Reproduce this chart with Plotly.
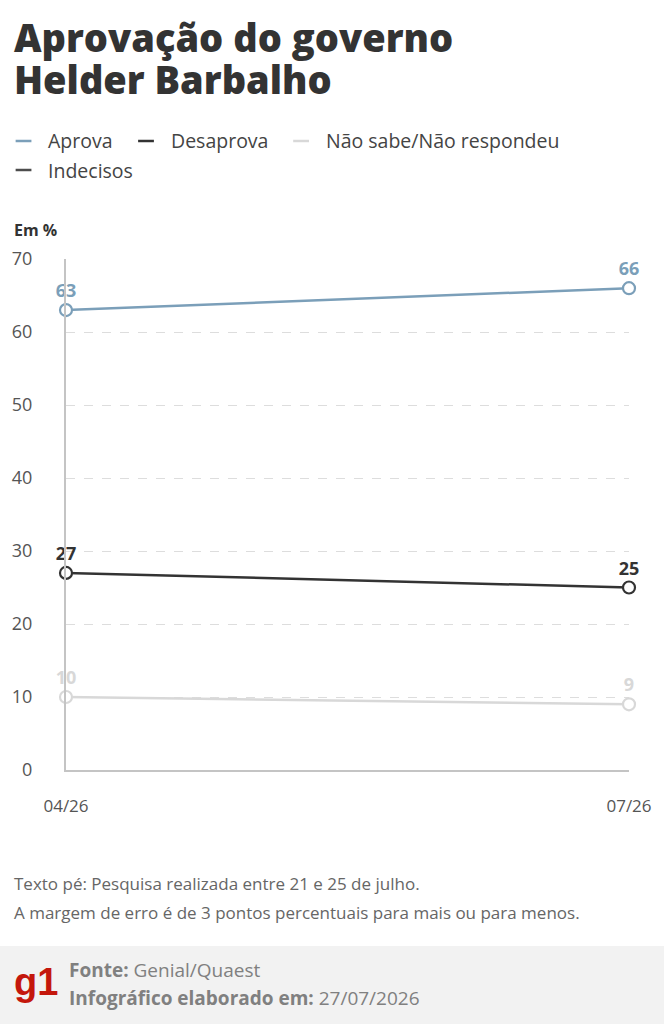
import plotly.graph_objects as go

# dados
periodos = ['04/26', '07/26']
aprova = [63, 66]
desaprova = [27, 25]
nao_sabe = [10, 9]
indecisos = [None, None]

series = [
    ('Aprova', aprova, '#7b9fb9'),
    ('Desaprova', desaprova, '#333333'),
    ('Não sabe/Não respondeu', nao_sabe, '#d8d8d8'),
    ('Indecisos', indecisos, '#4d4d4d'),
]

FONTE = 'Open Sans'
W, H = 664, 1024
L, R, T, B = 61, 33, 259, 254
PW, PH = W - L - R, H - T - B


# pixel (da imagem) -> coordenadas paper
def px(x):
    return (x - L) / PW


def py(y):
    return (H - B - y) / PH


fig = go.Figure()

for nome, valores, cor in series:
    fig.add_trace(go.Scatter(
        x=periodos, y=valores, name=nome,
        mode='lines+markers+text',
        line=dict(color=cor, width=2.5),
        marker=dict(size=12, color='white', line=dict(color=cor, width=2.2)),
        text=[str(v) if v is not None else '' for v in valores],
        textposition='top center',
        textfont=dict(family=FONTE, size=18, color=cor, weight='bold'),
        cliponaxis=False,
        showlegend=False,
    ))

fig.update_layout(
    width=W, height=H,
    margin=dict(l=L, r=R, t=T, b=B),
    paper_bgcolor='white', plot_bgcolor='white',
    font=dict(family=FONTE, color='#555555'),
    xaxis=dict(
        type='category', range=[0, 1],
        showgrid=True, gridcolor='#dddddd', griddash='dash', gridwidth=1,
        showline=True, linecolor='#c4c4c4', linewidth=2,
        ticks='', ticklabelstandoff=20,
        tickfont=dict(size=17, color='#555555'),
    ),
    yaxis=dict(
        range=[0, 70], dtick=10,
        showgrid=True, gridcolor='#dddddd', griddash='dash', gridwidth=1,
        zeroline=False,
        showline=True, linecolor='#c4c4c4', linewidth=2,
        ticks='', ticklabelstandoff=28,
        tickfont=dict(size=18, color='#555555'),
    ),
)

# titulo
for i, linha in enumerate(['Aprovação do governo', 'Helder Barbalho']):
    fig.add_annotation(text=linha, xref='paper', yref='paper',
                       x=px(6), y=py(37 + 42 * i),
                       xanchor='left', yanchor='middle', showarrow=False,
                       font=dict(family=FONTE, size=38, color='#333333', weight=800))

# legenda
leg = [
    ('Aprova', '#7b9fb9', 10, 141),
    ('Desaprova', '#333333', 134, 141),
    ('Não sabe/Não respondeu', '#d8d8d8', 291, 141),
    ('Indecisos', '#4d4d4d', 10, 170),
]
for nome, cor, lx, ly in leg:
    fig.add_shape(type='line', xref='paper', yref='paper',
                  x0=px(lx), x1=px(lx + 16), y0=py(ly), y1=py(ly),
                  line=dict(color=cor, width=2.5))
    fig.add_annotation(text=nome, xref='paper', yref='paper',
                       x=px(lx + 31), y=py(ly),
                       xanchor='left', yanchor='middle', showarrow=False,
                       font=dict(family=FONTE, size=19.5, color='#444444'))

fig.add_annotation(text='<b>Em %</b>', xref='paper', yref='paper',
                   x=px(6), y=py(230),
                   xanchor='left', yanchor='middle', showarrow=False,
                   font=dict(family=FONTE, size=16, color='#333333'))

# rodape
notas = ['Texto pé: Pesquisa realizada entre 21 e 25 de julho.',
         'A margem de erro é de 3 pontos percentuais para mais ou para menos.']
for i, nota in enumerate(notas):
    fig.add_annotation(text=nota, xref='paper', yref='paper',
                       x=px(6), y=py(884 + 28 * i),
                       xanchor='left', yanchor='middle', showarrow=False,
                       font=dict(family=FONTE, size=17, color='#666666'))

fig.add_shape(type='rect', xref='paper', yref='paper',
              x0=px(-10), x1=px(W + 10), y0=py(H + 10), y1=py(946),
              fillcolor='#f2f2f2', line=dict(width=0), layer='below')

fig.add_annotation(text='g1', xref='paper', yref='paper',
                   x=px(6), y=py(982),
                   xanchor='left', yanchor='middle', showarrow=False,
                   font=dict(family='Liberation Sans', size=38,
                             color='#c4170c', weight='bold'))

creditos = ['<b>Fonte:</b> Genial/Quaest',
            '<b>Infográfico elaborado em:</b> 27/07/2026']
for i, c in enumerate(creditos):
    fig.add_annotation(text=c, xref='paper', yref='paper',
                       x=px(62), y=py(970 + 28 * i),
                       xanchor='left', yanchor='middle', showarrow=False,
                       font=dict(family=FONTE, size=19, color='#808080'))

fig.write_html('out.html', config={'displayModeBar': False},
               post_script="document.body.style.margin='0';")
